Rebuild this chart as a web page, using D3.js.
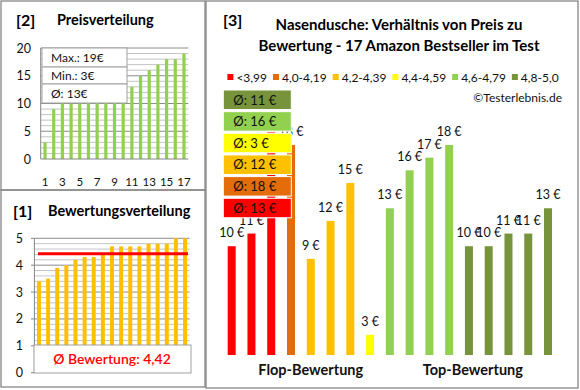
<!DOCTYPE html>
<html lang="de">
<head>
<meta charset="UTF-8">
<title>Nasendusche Preis / Bewertung</title>
<style>
  body { margin: 0; background: #fff; }
  svg { display: block; font-family: Lato, "Open Sans", sans-serif; }
  .bold { font-weight: bold; }
</style>
</head>
<body>
<svg id="chart" width="580" height="390"></svg>
<script src="https://cdn.jsdelivr.net/npm/d3@7"></script>
<script>
// ratings of the 17 products, ascending (panel [1])
var ratings = [3.4, 3.5, 3.9, 4.0, 4.2, 4.3, 4.3, 4.4, 4.7, 4.7, 4.7, 4.7, 4.8, 4.8, 4.8, 5.0, 5.0];
// prices in € of the same products, same order (panel [3])
var prices = [10, 11, 19, 18, 9, 12, 15, 3, 13, 16, 17, 18, 10, 10, 11, 11, 13];
// rating groups
var groupLabels = ["<3,99", "4,0-4,19", "4,2-4,39", "4,4-4,59", "4,6-4,79", "4,8-5,0"];
var groupBreaks = [4.0, 4.2, 4.4, 4.6, 4.8];
var groupColors = ["#ff0000", "#e46c0a", "#ffc000", "#ffff00", "#92d050", "#77933c"];
var ratingTicks = [0, 1, 2, 3, 4, 5];
var priceTicks = [0, 5, 10, 15, 20];
var priceXTicks = ["1", "3", "5", "7", "9", "11", "13", "15", "17"];
var bottomGroups = [{name: "Flop-Bewertung", at: 4}, {name: "Top-Bewertung", at: 12.2}];

var svg = d3.select("#chart");
svg.append("rect").attr("width", 580).attr("height", 390).attr("fill", "#fff");

// panel frames
var frames = [[1, 1, 204, 189], [1, 190, 204, 197], [206, 1, 372, 387]];
svg.selectAll("rect.frame").data(frames).enter().append("rect")
  .attr("class", "frame")
  .attr("x", d => d[0]).attr("y", d => d[1])
  .attr("width", d => d[2]).attr("height", d => d[3])
  .attr("fill", "none").attr("stroke", "#868686").attr("stroke-width", 1.3);

var n = prices.length;
var idx = d3.range(n);

// ---------- [2] Preisverteilung ----------
var p2 = svg.append("g");
p2.append("text").attr("class", "bold").attr("x", 16).attr("y", 26)
  .attr("font-size", 16).text("[2]");
p2.append("text").attr("class", "bold").attr("x", 57).attr("y", 25)
  .attr("font-size", 14.5).text("Preisverteilung");

var sorted = prices.slice().sort(d3.ascending);
var x2 = d3.scaleBand().domain(idx).range([40.7, 188.3]);
var y2 = d3.scaleLinear().domain([0, 20]).range([159, 48]);

p2.selectAll("line.grid").data(d3.range(1, 21)).enter().append("line")
  .attr("x1", 40.7).attr("x2", 188.3)
  .attr("y1", d => y2(d)).attr("y2", d => y2(d))
  .attr("stroke", d => d % 5 === 0 ? "#8c8c8c" : "#c4c4c4").attr("stroke-width", 1);

p2.selectAll("rect.bar").data(sorted).enter().append("rect")
  .attr("x", (d, i) => x2(i) + x2.bandwidth() / 2 - 1.6)
  .attr("width", 3.2)
  .attr("y", d => y2(d)).attr("height", d => y2(0) - y2(d))
  .attr("fill", "#92d050");

p2.append("line").attr("x1", 40.7).attr("x2", 40.7).attr("y1", 48).attr("y2", 159).attr("stroke", "#868686");
p2.append("line").attr("x1", 40.7).attr("x2", 188.3).attr("y1", 159).attr("y2", 159).attr("stroke", "#868686");

p2.selectAll("text.yt").data(priceTicks).enter().append("text")
  .attr("x", 31).attr("y", d => y2(d) + 4.5).attr("text-anchor", "end")
  .attr("font-size", 12.5).attr("fill", "#111").text(d => d);
p2.selectAll("text.xt").data(priceXTicks).enter().append("text")
  .attr("x", d => x2(+d - 1) + x2.bandwidth() / 2).attr("y", 186)
  .attr("text-anchor", "middle").attr("font-size", 11.5).attr("fill", "#111").text(d => d);

var stats = ["Max.: " + d3.max(prices) + "€", "Min.: " + d3.min(prices) + "€", "Ø: " + Math.round(d3.mean(prices)) + "€"];
var statRows = [[48, 19], [67, 17], [84, 19]];
p2.selectAll("rect.stat").data(stats).enter().append("rect")
  .attr("x", 42).attr("width", 85)
  .attr("y", (d, i) => statRows[i][0]).attr("height", (d, i) => statRows[i][1])
  .attr("fill", "#fff").attr("stroke", "#a0a0a0");
p2.selectAll("text.stat").data(stats).enter().append("text")
  .attr("x", 51).attr("y", (d, i) => statRows[i][0] + statRows[i][1] / 2 + 4.5)
  .attr("font-size", 12).attr("fill", "#111").text(d => d);

// ---------- [1] Bewertungsverteilung ----------
var p1 = svg.append("g");
p1.append("text").attr("class", "bold").attr("x", 13).attr("y", 217)
  .attr("font-size", 16).text("[1]");
p1.append("text").attr("class", "bold").attr("x", 48).attr("y", 216)
  .attr("font-size", 14.5).text("Bewertungsverteilung");

var x1 = d3.scaleBand().domain(idx).range([34.4, 189.6]);
var y1 = d3.scaleLinear().domain([0, 5]).range([372.7, 238.3]);

p1.selectAll("line.grid").data(d3.range(1, 26)).enter().append("line")
  .attr("x1", 34.4).attr("x2", 189.6)
  .attr("y1", d => y1(d / 5)).attr("y2", d => y1(d / 5))
  .attr("stroke", d => d % 5 === 0 ? "#8c8c8c" : "#c4c4c4");

p1.selectAll("rect.bar").data(ratings).enter().append("rect")
  .attr("x", (d, i) => x1(i) + x1.bandwidth() / 2 - 2)
  .attr("width", 4)
  .attr("y", d => y1(d)).attr("height", d => y1(0) - y1(d))
  .attr("fill", "#ffc000");

p1.append("line").attr("x1", 34.4).attr("x2", 34.4).attr("y1", 238.3).attr("y2", 372.7).attr("stroke", "#868686");
p1.selectAll("line.tick").data(ratingTicks).enter().append("line")
  .attr("x1", 31).attr("x2", 34.4).attr("y1", d => y1(d)).attr("y2", d => y1(d)).attr("stroke", "#868686");
p1.selectAll("text.yt").data(ratingTicks).enter().append("text")
  .attr("x", 23).attr("y", d => y1(d) + 4.5).attr("text-anchor", "end")
  .attr("font-size", 12.5).attr("fill", "#111").text(d => d);

var avgRating = d3.mean(ratings);
p1.append("line").attr("x1", 38).attr("x2", 188)
  .attr("y1", y1(avgRating)).attr("y2", y1(avgRating))
  .attr("stroke", "#ff0000").attr("stroke-width", 3);

p1.append("rect").attr("x", 34).attr("y", 345).attr("width", 157).attr("height", 28)
  .attr("fill", "#fff").attr("stroke", "#a0a0a0");
p1.append("text").attr("x", 112).attr("y", 364).attr("text-anchor", "middle")
  .attr("font-size", 14).attr("font-weight", 600).attr("fill", "#ff0000")
  .text("Ø Bewertung: " + d3.format(".2f")(avgRating).replace(".", ","));

// ---------- [3] Preis / Bewertung ----------
var p3 = svg.append("g");
p3.append("text").attr("class", "bold").attr("x", 223).attr("y", 26)
  .attr("font-size", 16).text("[3]");
p3.append("text").attr("class", "bold").attr("x", 399).attr("y", 30).attr("text-anchor", "middle")
  .attr("font-size", 15).text("Nasendusche: Verhältnis von Preis zu");
p3.append("text").attr("class", "bold").attr("x", 399).attr("y", 50.5).attr("text-anchor", "middle")
  .attr("font-size", 15).text("Bewertung - 17 Amazon Bestseller im Test");

var groupOf = d3.scaleThreshold().domain(groupBreaks).range(d3.range(6));
var colorOf = d3.scaleOrdinal().domain(d3.range(6)).range(groupColors);

// legend
var leg = p3.append("g");
var lx = 0;
groupLabels.forEach(function(lab, i) {
  leg.append("rect").attr("x", lx).attr("y", -3).attr("width", 6).attr("height", 6).attr("fill", groupColors[i]);
  var t = leg.append("text").attr("x", lx + 9).attr("y", 4.5).attr("font-size", 12).attr("fill", "#111").text(lab);
  lx += 9 + t.node().getComputedTextLength() + 6;
});
leg.attr("transform", "translate(" + (393 - (lx - 6) / 2) + ",77)");

p3.append("text").attr("x", 562).attr("y", 102).attr("text-anchor", "end")
  .attr("font-size", 12).attr("fill", "#111").text("©Testerlebnis.de");

var x3 = d3.scaleBand().domain(idx).range([221.8, 557.9]);
var y3 = d3.scaleLinear().domain([1.4, 20]).range([355, 119.7]);

p3.selectAll("rect.bar").data(prices).enter().append("rect")
  .attr("x", (d, i) => x3(i) + x3.bandwidth() / 2 - 4)
  .attr("width", 8)
  .attr("y", d => y3(d)).attr("height", d => y3(1.4) - y3(d))
  .attr("fill", (d, i) => colorOf(groupOf(ratings[i])));

p3.selectAll("text.val").data(prices).enter().append("text")
  .attr("x", (d, i) => x3(i) + x3.bandwidth() / 2)
  .attr("y", d => y3(d) - 9)
  .attr("text-anchor", "middle").attr("font-size", 12.5).attr("fill", "#111")
  .text(d => d + " €");

p3.selectAll("text.grp").data(bottomGroups).enter().append("text")
  .attr("class", "bold")
  .attr("x", d => x3(0) + x3.bandwidth() / 2 + d.at * x3.step())
  .attr("y", 375).attr("text-anchor", "middle").attr("font-size", 14.5).attr("fill", "#111")
  .text(d => d.name);

// average price per rating group, stacked boxes (best group on top)
var groupAvg = d3.range(6).map(function(g) {
  var vals = prices.filter((p, i) => groupOf(ratings[i]) === g);
  return {g: g, avg: Math.round(d3.mean(vals))};
}).reverse();
var boxes = p3.selectAll("g.avg").data(groupAvg).enter().append("g")
  .attr("transform", (d, i) => "translate(223.3," + (90 + i * 21.65) + ")");
boxes.append("rect").attr("width", 68).attr("height", 19.5)
  .attr("fill", d => groupColors[d.g]).attr("stroke", "#fff").attr("stroke-width", 1);
boxes.append("text").attr("x", 10).attr("y", 14.5).attr("font-size", 13).attr("fill", "#111")
  .text(d => "Ø: " + d.avg + " €");
</script>
</body>
</html>
